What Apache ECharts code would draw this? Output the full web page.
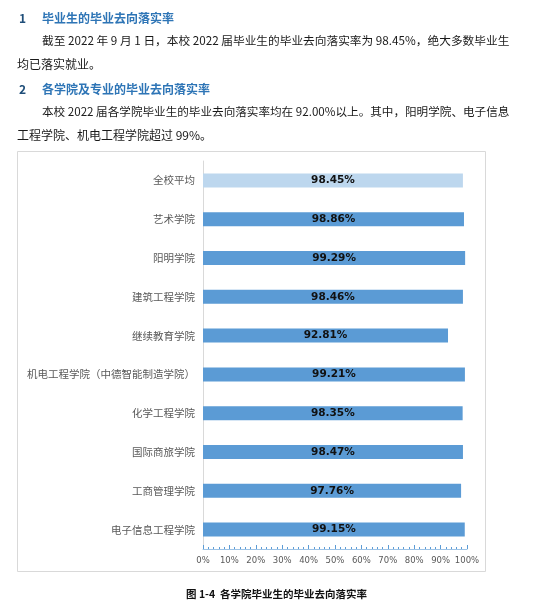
<!DOCTYPE html>
<html>
<head>
<meta charset="utf-8">
<script src="https://cdn.jsdelivr.net/npm/echarts@6/dist/echarts.min.js"></script>
<style>
html,body{margin:0;padding:0;background:#fff;}
#c{width:551px;height:608px;}
</style>
</head>
<body>
<div id="c"></div>
<script>
// ---- data ----
var categories = ['全校平均','艺术学院','阳明学院','建筑工程学院','继续教育学院','机电工程学院（中德智能制造学院）','化学工程学院','国际商旅学院','工商管理学院','电子信息工程学院'];
var values = [98.45, 98.86, 99.29, 98.46, 92.81, 99.21, 98.35, 98.47, 97.76, 99.15];
var averageLabel = '全校平均';

var heading1 = '毕业生的毕业去向落实率';
var heading2 = '各学院及专业的毕业去向落实率';
var para1a = '截至 2022 年 9 月 1 日，本校 2022 届毕业生的毕业去向落实率为 98.45%，绝大多数毕业生';
var para1b = '均已落实就业。';
var para2a = '本校 2022 届各学院毕业生的毕业去向落实率均在 92.00%以上。其中，阳明学院、电子信息';
var para2b = '工程学院、机电工程学院超过 99%。';
var caption = '图 1-4  各学院毕业生的毕业去向落实率';

// ---- chart ----
var chart = echarts.init(document.getElementById('c'), null, {renderer:'canvas'});
var CJK = '"Noto Sans CJK SC", sans-serif';
var barData = values.map(function(v, i){
  return {value: v, itemStyle: {color: categories[i] === averageLabel ? '#BDD7EE' : '#5B9BD5'}};
});

function txt(x, y, s, opt){
  opt = opt || {};
  return {
    type:'text', x:x, y:y, silent:true,
    style:{
      text:s, fill: opt.fill || '#1a1a1a',
      fontSize: opt.size || 12, fontFamily: opt.family || CJK,
      fontWeight: opt.weight || 'normal',
      align: opt.align || 'left', verticalAlign:'middle'
    }
  };
}

var option = {
  backgroundColor:'#fff',
  animation:false,
  grid:{left:203, right:84, top:161, bottom:59, containLabel:false},
  xAxis:{
    type:'value', min:0, max:100, interval:10,
    axisLine:{show:true, lineStyle:{color:'#9DC3E6', width:1}},
    axisTick:{show:true, inside:true, length:4, lineStyle:{color:'#5B9BD5'}},
    minorTick:{show:true, splitNumber:5, length:2, lineStyle:{color:'#5B9BD5'}},
    splitLine:{show:false},
    axisLabel:{formatter:'{value}%', color:'#595959', fontSize:8.5, fontFamily:'"DejaVu Sans", sans-serif', margin:7}
  },
  yAxis:{
    type:'category', data:categories, inverse:true,
    axisLine:{show:true, lineStyle:{color:'#D9D9D9'}},
    axisTick:{show:false},
    axisLabel:{color:'#595959', fontSize:10.5, fontFamily:CJK, margin:8}
  },
  series:[{
    type:'bar', data:barData, barWidth:'36%',
    label:{show:true, position:'inside', formatter:function(p){return p.value.toFixed(2)+'%';},
      color:'#111', fontSize:10.5, fontWeight:'bold', fontFamily:'"DejaVu Sans", sans-serif'}
  }],
  graphic:[
    {type:'rect', shape:{x:17.5, y:151.5, width:468, height:420}, silent:true, z:-1,
      style:{fill:'none', stroke:'#D9D9D9', lineWidth:1}},
    txt(19, 18, '1', {fill:'#1F4E79', weight:'bold', size:12}),
    txt(42, 18, heading1, {fill:'#2E75B6', weight:'bold', size:12}),
    txt(42, 41, para1a, {size:11.7}),
    txt(17, 64, para1b, {size:12}),
    txt(19, 89, '2', {fill:'#1F4E79', weight:'bold', size:12}),
    txt(42, 89, heading2, {fill:'#2E75B6', weight:'bold', size:12}),
    txt(42, 112, para2a, {size:11.6}),
    txt(17, 135, para2b, {size:12}),
    txt(186, 594, caption, {size:10.5, weight:'bold', fill:'#111'})
  ]
};
chart.setOption(option);
</script>
</body>
</html>
